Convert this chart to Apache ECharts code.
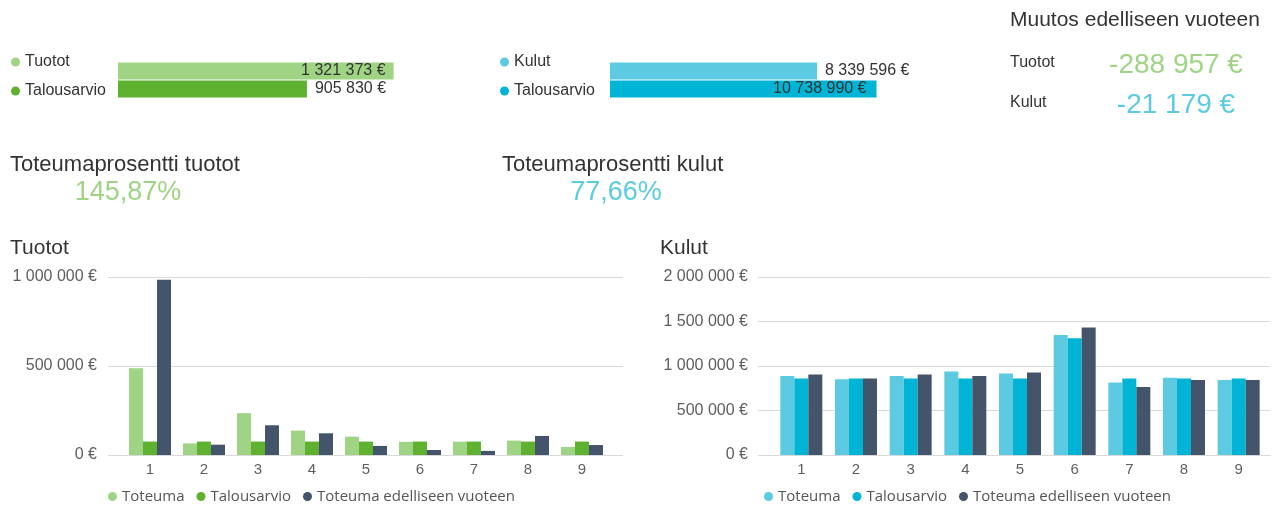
<!DOCTYPE html>
<html>
<head>
<meta charset="utf-8">
<script src="https://cdn.jsdelivr.net/npm/echarts@6/dist/echarts.min.js"></script>
<style>
html,body{margin:0;padding:0;background:#fff;}
#main{width:1274px;height:510px;}
</style>
</head>
<body>
<div id="main"></div>
<script>
// kuukaudet
var months = ['1','2','3','4','5','6','7','8','9'];

// tuotot kuukausittain
var tuototToteuma   = [488000, 65000, 235000, 137000, 103000, 74000, 75000, 81000, 45000];
var tuototBudjetti  = [75486, 75486, 75486, 75486, 75486, 75486, 75486, 75486, 75486];
var tuototEdellinen = [985000, 58000, 167000, 122000, 51000, 28000, 23000, 107000, 56000];

// kulut kuukausittain
var kulutToteuma   = [889000, 852000, 889000, 938000, 915000, 1347000, 814000, 867000, 844000];
var kulutBudjetti  = [859000, 859000, 859000, 859000, 859000, 1313000, 859000, 859000, 859000];
var kulutEdellinen = [904000, 859000, 904000, 889000, 926000, 1433000, 765000, 844000, 844000];

// yhteenveto: [toteuma, talousarvio]
var tuototSumma = [1321373, 905830];
var kulutSumma  = [8339596, 10738990];
// muutos edelliseen vuoteen: [tuotot, kulut]
var muutos = [-288957, -21179];

var tuototTicks = [0, 500000, 1000000];
var kulutTicks  = [0, 500000, 1000000, 1500000, 2000000];

var cLightGreen = '#9fd484';
var cGreen = '#5eb230';
var cNavy = '#44546a';
var cLightBlue = '#5ccbe2';
var cBlue = '#00b4d6';

var FONT = '"Liberation Sans", Arial, sans-serif';
var LFONT = '"Open Sans", sans-serif';

function fmt(v){
  var s = Math.abs(v).toString().replace(/\B(?=(\d{3})+(?!\d))/g, ' ');
  return (v < 0 ? '-' : '') + s + ' €';
}
function pct(a, b){
  return (a / b * 100).toFixed(2).replace('.', ',') + '%';
}

function txt(x, y, text, size, color, align){
  return {
    type: 'text', x: x, y: y, silent: true,
    style: {
      text: text, fill: color, font: size + 'px ' + FONT,
      align: align || 'left', verticalAlign: 'middle',
      textAlign: align || 'left', textVerticalAlign: 'middle'
    }
  };
}

var myChart = echarts.init(document.getElementById('main'));

var option = {
  animation: false,
  backgroundColor: '#fff',
  graphic: [
    txt(1010, 20, 'Muutos edelliseen vuoteen', 21, '#333'),
    txt(1010, 63, 'Tuotot', 16, '#333'),
    txt(1176, 65, fmt(muutos[0]), 28, cLightGreen, 'center'),
    txt(1010, 103, 'Kulut', 16, '#333'),
    txt(1176, 105, fmt(muutos[1]), 28, cLightBlue, 'center'),
    txt(10, 165, 'Toteumaprosentti tuotot', 22, '#333'),
    txt(128, 193, pct(tuototSumma[0], tuototSumma[1]), 27, cLightGreen, 'center'),
    txt(502, 165, 'Toteumaprosentti kulut', 22, '#333'),
    txt(616, 193, pct(kulutSumma[0], kulutSumma[1]), 27, cLightBlue, 'center'),
    txt(10, 248, 'Tuotot', 21, '#333'),
    txt(660, 248, 'Kulut', 21, '#333')
  ],
  legend: [
    {
      orient: 'vertical', left: 11, top: 54, padding: 0, itemGap: 13,
      icon: 'circle', itemWidth: 9, itemHeight: 9,
      textStyle: {fontSize: 16, color: '#333', fontFamily: FONT},
      data: [{name: 'Tuotot', itemStyle: {color: cLightGreen}},
             {name: 'Talousarvio', itemStyle: {color: cGreen}}]
    },
    {
      orient: 'vertical', left: 500, top: 54, padding: 0, itemGap: 13,
      icon: 'circle', itemWidth: 9, itemHeight: 9,
      textStyle: {fontSize: 16, color: '#333', fontFamily: FONT},
      data: [{name: 'Kulut', itemStyle: {color: cLightBlue}},
             {name: 'Talousarvio', itemStyle: {color: cBlue}}]
    },
    {
      left: 108, top: 489, padding: 0, itemGap: 12,
      icon: 'circle', itemWidth: 9, itemHeight: 9,
      textStyle: {fontSize: 15, color: '#555', fontFamily: LFONT},
      data: [{name: 'Toteuma', itemStyle: {color: cLightGreen}},
             {name: 'Talousarvio', itemStyle: {color: cGreen}},
             {name: 'Toteuma edelliseen vuoteen', itemStyle: {color: cNavy}}]
    },
    {
      left: 764, top: 489, padding: 0, itemGap: 12,
      icon: 'circle', itemWidth: 9, itemHeight: 9,
      textStyle: {fontSize: 15, color: '#555', fontFamily: LFONT},
      data: [{name: 'Toteuma', itemStyle: {color: cLightBlue}},
             {name: 'Talousarvio', itemStyle: {color: cBlue}},
             {name: 'Toteuma edelliseen vuoteen', itemStyle: {color: cNavy}}]
    }
  ],
  grid: [
    {left: 118, top: 62, width: 292, height: 36},   // tuotot yhteensä
    {left: 610, top: 62, width: 273, height: 36},   // kulut yhteensä
    {left: 108, top: 277, width: 515, height: 178}, // tuotot taustaviivat
    {left: 123, top: 277, width: 486, height: 178}, // tuotot pylväät
    {left: 758, top: 277, width: 512, height: 178}, // kulut taustaviivat
    {left: 774, top: 277, width: 492, height: 178}  // kulut pylväät
  ],
  xAxis: [
    {gridIndex: 0, type: 'value', min: 0, max: 1400000, show: false},
    {gridIndex: 1, type: 'value', min: 0, max: 11000000, show: false},
    {gridIndex: 2, type: 'category', data: months, show: false},
    {gridIndex: 3, type: 'category', data: months,
      axisLine: {show: false}, axisTick: {show: false},
      axisLabel: {fontSize: 15, color: '#605e5c', margin: 7, fontFamily: FONT}},
    {gridIndex: 4, type: 'category', data: months, show: false},
    {gridIndex: 5, type: 'category', data: months,
      axisLine: {show: false}, axisTick: {show: false},
      axisLabel: {fontSize: 15, color: '#605e5c', margin: 7, fontFamily: FONT}}
  ],
  yAxis: [
    {gridIndex: 0, type: 'category', data: ['Tuotot', 'Talousarvio'], inverse: true, show: false},
    {gridIndex: 1, type: 'category', data: ['Kulut', 'Talousarvio'], inverse: true, show: false},
    {gridIndex: 2, type: 'value', min: 0, max: tuototTicks[2], interval: 500000,
      axisLine: {show: false}, axisTick: {show: false},
      splitLine: {lineStyle: {color: '#d9d9d9', width: 1}},
      axisLabel: {fontSize: 16, color: '#605e5c', margin: 11, fontFamily: FONT, formatter: fmt}},
    {gridIndex: 3, type: 'value', min: 0, max: tuototTicks[2], show: false},
    {gridIndex: 4, type: 'value', min: 0, max: kulutTicks[4], interval: 500000,
      axisLine: {show: false}, axisTick: {show: false},
      splitLine: {lineStyle: {color: '#d9d9d9', width: 1}},
      axisLabel: {fontSize: 16, color: '#605e5c', margin: 10, fontFamily: FONT, formatter: fmt}},
    {gridIndex: 5, type: 'value', min: 0, max: kulutTicks[4], show: false}
  ],
  series: [
    // yhteenvetopalkit
    {name: 'Tuotot', type: 'bar', xAxisIndex: 0, yAxisIndex: 0, stack: 't', barWidth: 17,
      itemStyle: {color: cLightGreen}, data: [tuototSumma[0], '-'],
      label: {show: true, position: 'insideRight', distance: 8, color: '#333', fontSize: 16, fontFamily: FONT,
        formatter: function(p){ return fmt(p.value); }}},
    {name: 'Talousarvio', type: 'bar', xAxisIndex: 0, yAxisIndex: 0, stack: 't', barWidth: 17,
      itemStyle: {color: cGreen}, data: ['-', tuototSumma[1]],
      label: {show: true, position: 'right', distance: 8, color: '#333', fontSize: 16, fontFamily: FONT,
        formatter: function(p){ return fmt(p.value); }}},
    {name: 'Kulut', type: 'bar', xAxisIndex: 1, yAxisIndex: 1, stack: 'k', barWidth: 17,
      itemStyle: {color: cLightBlue}, data: [kulutSumma[0], '-'],
      label: {show: true, position: 'right', distance: 8, color: '#333', fontSize: 16, fontFamily: FONT,
        formatter: function(p){ return fmt(p.value); }}},
    {name: 'Talousarvio', type: 'bar', xAxisIndex: 1, yAxisIndex: 1, stack: 'k', barWidth: 17,
      itemStyle: {color: cBlue}, data: ['-', kulutSumma[1]],
      label: {show: true, position: 'insideRight', distance: 10, color: '#333', fontSize: 16, fontFamily: FONT,
        formatter: function(p){ return fmt(p.value); }}},
    // tuotot kuukausittain
    {name: 'Toteuma', type: 'bar', xAxisIndex: 3, yAxisIndex: 3, barWidth: 14, barGap: '0%',
      itemStyle: {color: cLightGreen}, data: tuototToteuma},
    {name: 'Talousarvio', type: 'bar', xAxisIndex: 3, yAxisIndex: 3, barWidth: 14, barGap: '0%',
      itemStyle: {color: cGreen}, data: tuototBudjetti},
    {name: 'Toteuma edelliseen vuoteen', type: 'bar', xAxisIndex: 3, yAxisIndex: 3, barWidth: 14, barGap: '0%',
      itemStyle: {color: cNavy}, data: tuototEdellinen},
    // kulut kuukausittain
    {name: 'Toteuma', type: 'bar', xAxisIndex: 5, yAxisIndex: 5, barWidth: 14, barGap: '0%',
      itemStyle: {color: cLightBlue}, data: kulutToteuma},
    {name: 'Talousarvio', type: 'bar', xAxisIndex: 5, yAxisIndex: 5, barWidth: 14, barGap: '0%',
      itemStyle: {color: cBlue}, data: kulutBudjetti},
    {name: 'Toteuma edelliseen vuoteen', type: 'bar', xAxisIndex: 5, yAxisIndex: 5, barWidth: 14, barGap: '0%',
      itemStyle: {color: cNavy}, data: kulutEdellinen}
  ]
};
myChart.setOption(option);
</script>
</body>
</html>
